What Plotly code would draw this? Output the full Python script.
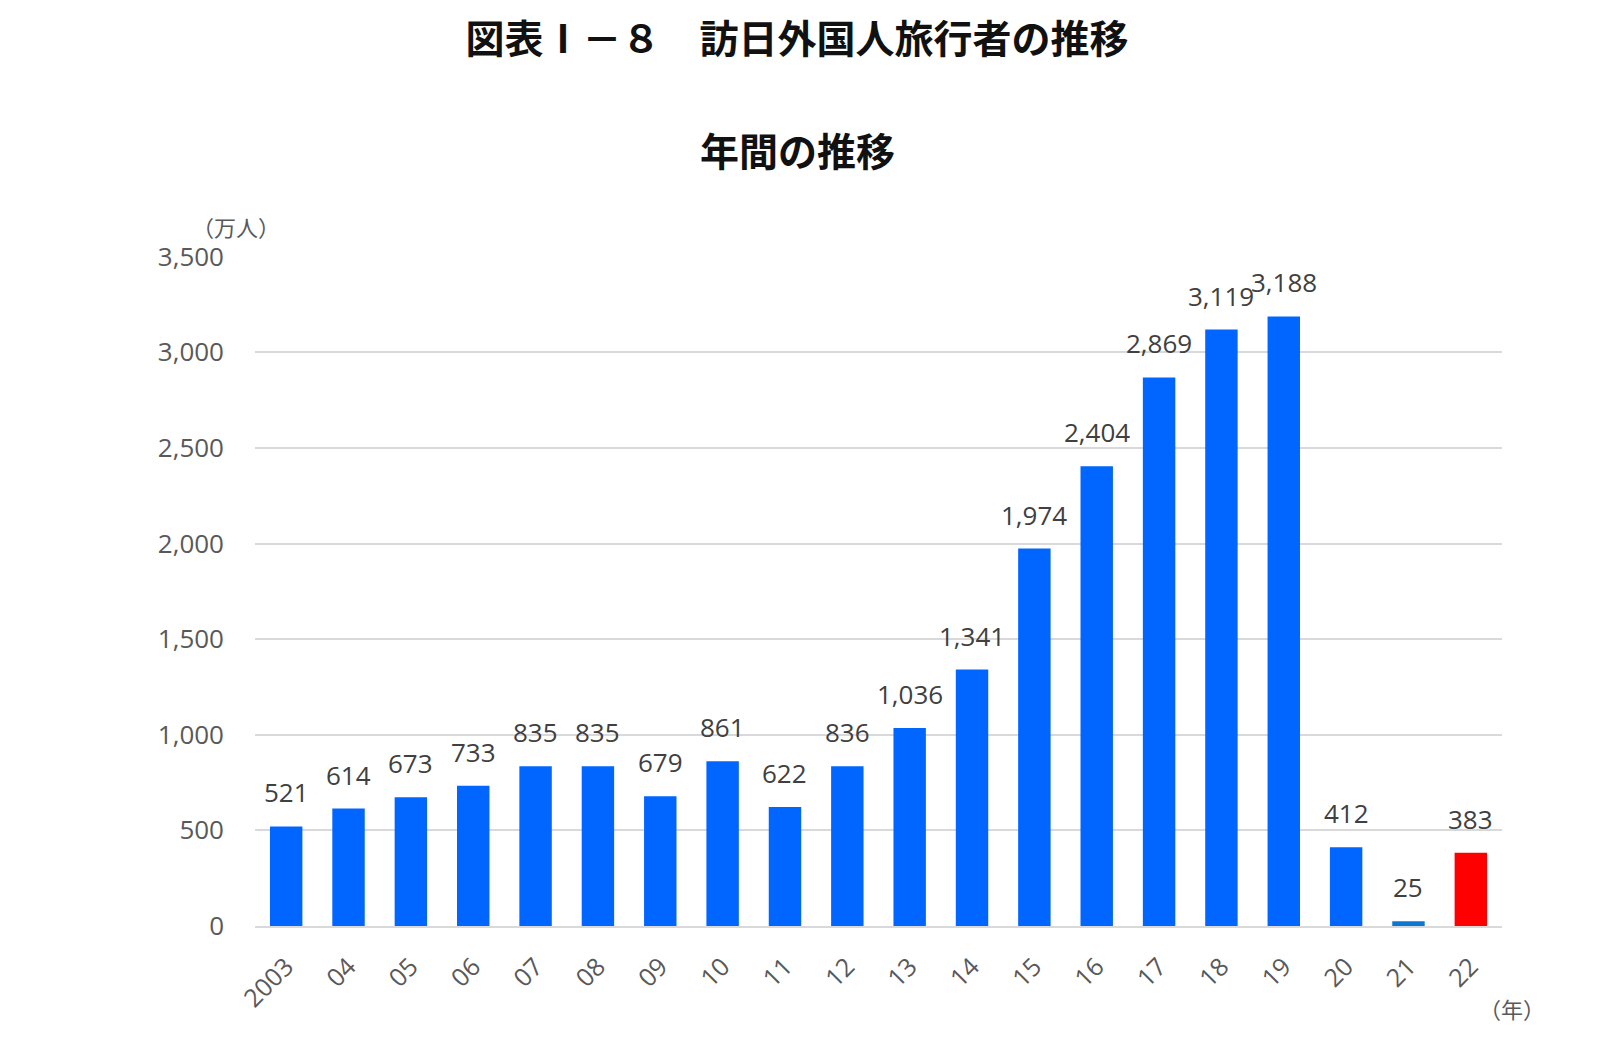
import plotly.graph_objects as go

years = ["2003", "04", "05", "06", "07", "08", "09", "10", "11", "12",
         "13", "14", "15", "16", "17", "18", "19", "20", "21", "22"]
visitors = [521, 614, 673, 733, 835, 835, 679, 861, 622, 836,
            1036, 1341, 1974, 2404, 2869, 3119, 3188, 412, 25, 383]
bar_colors = ["#0066FF"] * 18 + ["#0A78D2", "#FF0000"]

W, H = 1600, 1062
BODY = 8  # default page body margin
L, R, T, B = 255 - BODY, 98 + BODY, 256 - BODY, 136 + BODY
plot_w = W - L - R
plot_h = H - T - B

def px(xf):  # full-page pixel x -> paper
    return (xf - BODY - L) / plot_w

def py(yf):  # full-page pixel y -> paper
    return (H - B - (yf - BODY)) / plot_h

LABEL_FONT = "Open Sans, Noto Sans"
GRAY = "#595959"

fig = go.Figure()
fig.add_trace(go.Bar(
    x=years, y=visitors,
    marker=dict(color=bar_colors, line=dict(width=0)),
    width=0.52,
    hoverinfo="x+y",
))

annotations = [
    dict(x=i, y=v, xref="x", yref="y", text=f"{v:,}", showarrow=False,
         xanchor="center", yanchor="bottom", yshift=14,
         font=dict(family=LABEL_FONT, size=26, color="#404040"))
    for i, v in enumerate(visitors)
]
annotations += [
    dict(text="年間の推移", xref="paper", yref="paper", x=px(797), y=py(149),
         xanchor="center", yanchor="middle", showarrow=False,
         font=dict(family="Noto Sans CJK JP", size=39, color="#111111", weight="bold")),
    dict(text="（万人）", xref="paper", yref="paper", x=px(236), y=py(226),
         xanchor="center", yanchor="middle", showarrow=False,
         font=dict(family="Noto Sans CJK JP", size=22, color=GRAY)),
    dict(text="（年）", xref="paper", yref="paper", x=px(1512), y=py(1008),
         xanchor="center", yanchor="middle", showarrow=False,
         font=dict(family="Noto Sans CJK JP", size=22, color=GRAY)),
]

fig.update_layout(
    width=W, height=H,
    paper_bgcolor="white", plot_bgcolor="white",
    margin=dict(l=L, r=R, t=T, b=B, autoexpand=False),
    showlegend=False,
    title=dict(text="図表Ⅰ－８　訪日外国人旅行者の推移",
               xref="container", x=(797 - BODY) / W, xanchor="center",
               yref="container", y=1 - (39 - BODY) / H, yanchor="middle",
               font=dict(family="Noto Sans CJK JP", size=39, color="#111111", weight="bold")),
    xaxis=dict(
        type="category", tickangle=-45,
        tickfont=dict(family=LABEL_FONT, size=25, color=GRAY),
        showline=True, linecolor="#D9D9D9", linewidth=2,
        showgrid=False, ticks="", range=[-0.5, 19.5],
        ticklabelstandoff=14,
    ),
    yaxis=dict(
        range=[0, 3504], tickvals=[0, 500, 1000, 1500, 2000, 2500, 3000, 3500],
        tickformat=",",
        tickfont=dict(family=LABEL_FONT, size=26, color=GRAY),
        showgrid=True, gridcolor="#D9D9D9", gridwidth=2,
        zeroline=False, ticks="", ticklabelstandoff=30,
    ),
    annotations=annotations,
)

fig.write_html("out.html")
